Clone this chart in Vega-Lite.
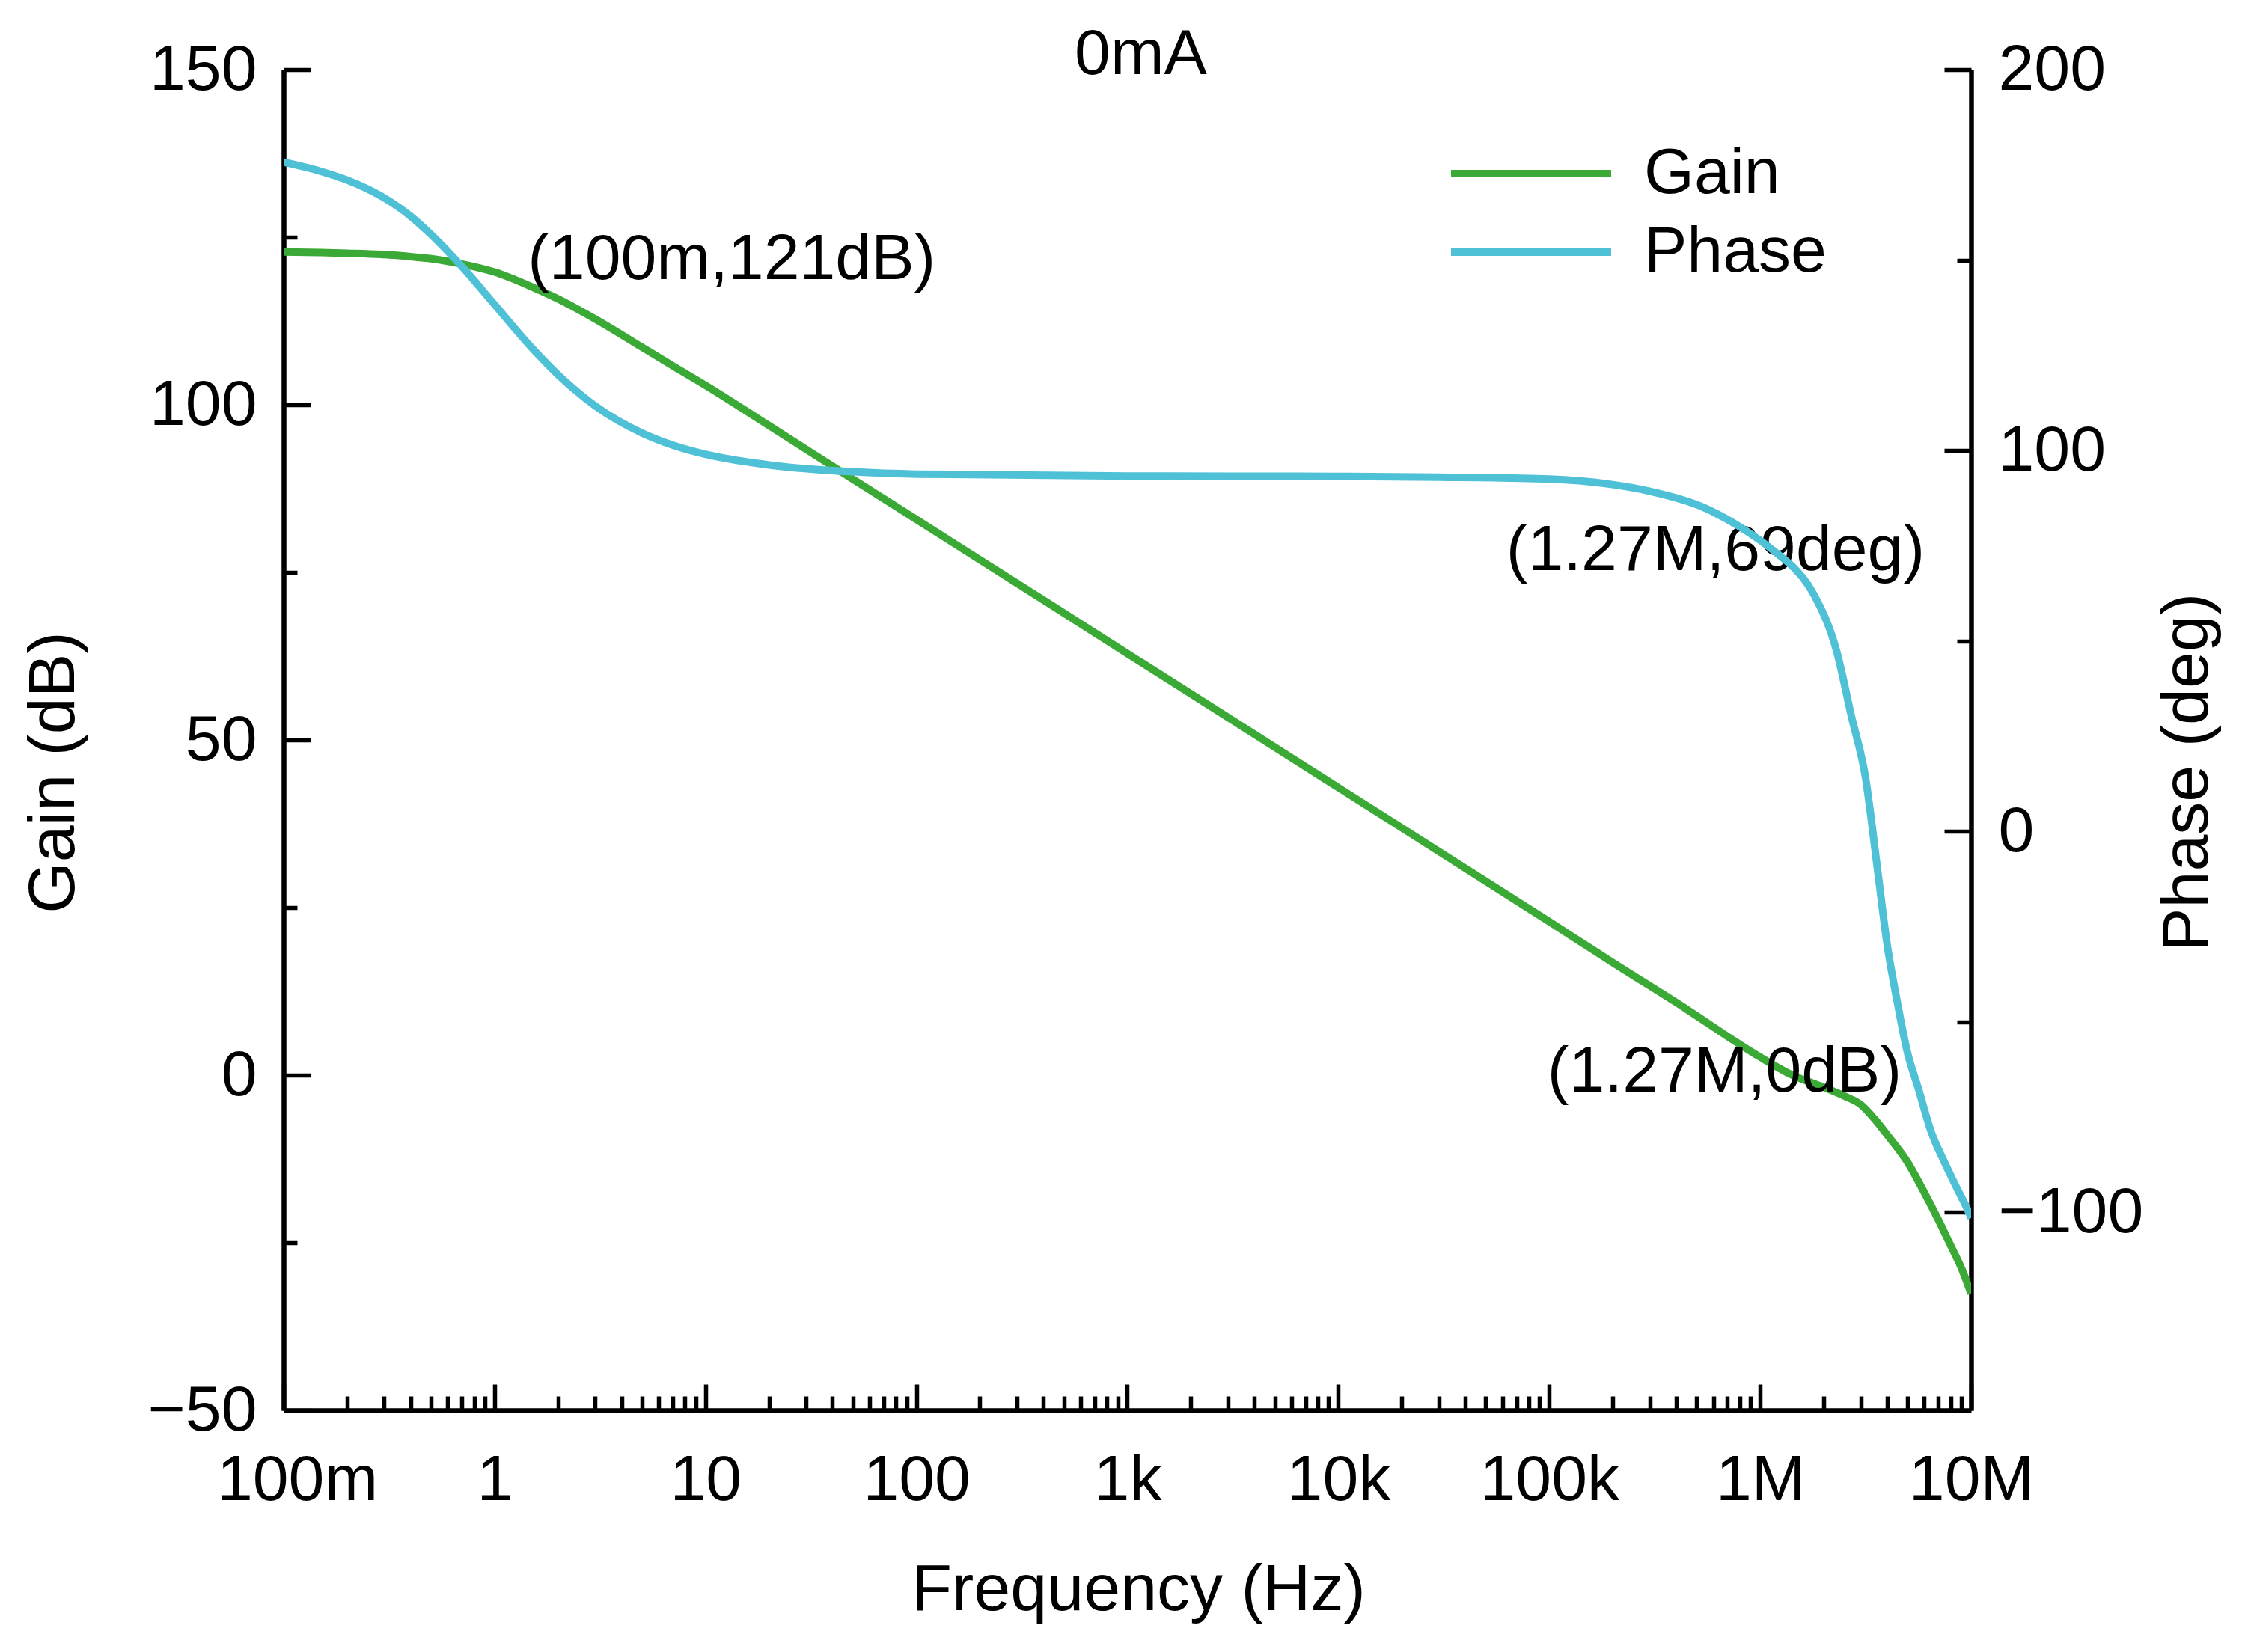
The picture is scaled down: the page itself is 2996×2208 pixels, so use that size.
{
  "$schema": "https://vega.github.io/schema/vega-lite/v6.json",
  "description": "Bode plot, gain and phase vs frequency at 0mA.",
  "autosize": "none",
  "width": 2255,
  "height": 1792,
  "padding": {"left": 379, "top": 93, "right": 362, "bottom": 323},
  "background": "white",
  "title": {"text": "0mA", "fontSize": 86, "fontWeight": "normal", "font": "Liberation Sans", "color": "black", "anchor": "middle", "offset": -67, "dx": 18},
  "config": {
    "view": {"stroke": null},
    "font": "Liberation Sans",
    "axis": {
      "grid": false,
      "domainColor": "black",
      "domainWidth": 6.5,
      "tickColor": "black",
      "tickWidth": 5.5,
      "labelColor": "black",
      "labelFont": "Liberation Sans",
      "labelFontSize": 86,
      "labelLimit": 0,
      "labelOverlap": false,
      "labelBound": false,
      "labelFlush": false,
      "titleColor": "black",
      "titleFont": "Liberation Sans",
      "titleFontSize": 88,
      "titleFontWeight": "normal",
      "titleLimit": 0
    },
    "legend": {"labelLimit": 0}
  },
  "datasets": {
    "curves": [
      {"s": "Gain", "f": 0.1, "v": 122.8},
      {"s": "Gain", "f": 0.15, "v": 122.7},
      {"s": "Gain", "f": 0.2, "v": 122.6},
      {"s": "Gain", "f": 0.3, "v": 122.4},
      {"s": "Gain", "f": 0.4, "v": 122.1},
      {"s": "Gain", "f": 0.5, "v": 121.8},
      {"s": "Gain", "f": 0.7, "v": 121.0},
      {"s": "Gain", "f": 1, "v": 119.8},
      {"s": "Gain", "f": 1.5, "v": 117.6},
      {"s": "Gain", "f": 2, "v": 115.8},
      {"s": "Gain", "f": 3, "v": 112.8},
      {"s": "Gain", "f": 5, "v": 108.6},
      {"s": "Gain", "f": 7, "v": 105.8},
      {"s": "Gain", "f": 10, "v": 102.9},
      {"s": "Gain", "f": 20, "v": 96.9},
      {"s": "Gain", "f": 50, "v": 88.9},
      {"s": "Gain", "f": 100, "v": 82.9},
      {"s": "Gain", "f": 1000, "v": 62.9},
      {"s": "Gain", "f": 10000, "v": 42.9},
      {"s": "Gain", "f": 100000, "v": 22.9},
      {"s": "Gain", "f": 200000, "v": 16.8},
      {"s": "Gain", "f": 450000, "v": 9.8},
      {"s": "Gain", "f": 800000, "v": 4.6},
      {"s": "Gain", "f": 1000000, "v": 2.7},
      {"s": "Gain", "f": 1420000, "v": 0.0},
      {"s": "Gain", "f": 2000000, "v": -1.8},
      {"s": "Gain", "f": 2500000, "v": -3.1},
      {"s": "Gain", "f": 3000000, "v": -4.4},
      {"s": "Gain", "f": 3500000, "v": -6.6},
      {"s": "Gain", "f": 4000000, "v": -8.9},
      {"s": "Gain", "f": 5000000, "v": -13.0},
      {"s": "Gain", "f": 6000000, "v": -17.5},
      {"s": "Gain", "f": 7000000, "v": -21.6},
      {"s": "Gain", "f": 8000000, "v": -25.4},
      {"s": "Gain", "f": 9000000, "v": -28.8},
      {"s": "Gain", "f": 10000000, "v": -32.6},
      {"s": "Phase", "f": 0.1, "v": 175.7},
      {"s": "Phase", "f": 0.15, "v": 173.3},
      {"s": "Phase", "f": 0.2, "v": 171.0},
      {"s": "Phase", "f": 0.3, "v": 166.3},
      {"s": "Phase", "f": 0.4, "v": 161.5},
      {"s": "Phase", "f": 0.5, "v": 156.7},
      {"s": "Phase", "f": 0.7, "v": 148.3},
      {"s": "Phase", "f": 1, "v": 138.3},
      {"s": "Phase", "f": 1.5, "v": 127.0},
      {"s": "Phase", "f": 2, "v": 119.9},
      {"s": "Phase", "f": 3, "v": 111.7},
      {"s": "Phase", "f": 5, "v": 104.6},
      {"s": "Phase", "f": 7, "v": 101.4},
      {"s": "Phase", "f": 10, "v": 99.0},
      {"s": "Phase", "f": 20, "v": 96.2},
      {"s": "Phase", "f": 50, "v": 94.4},
      {"s": "Phase", "f": 100, "v": 93.8},
      {"s": "Phase", "f": 1000, "v": 93.3},
      {"s": "Phase", "f": 10000, "v": 93.2},
      {"s": "Phase", "f": 30000, "v": 93.0},
      {"s": "Phase", "f": 100000, "v": 92.5},
      {"s": "Phase", "f": 191000, "v": 91.2},
      {"s": "Phase", "f": 300000, "v": 89.3},
      {"s": "Phase", "f": 521000, "v": 85.4},
      {"s": "Phase", "f": 800000, "v": 80.0},
      {"s": "Phase", "f": 1000000, "v": 76.4},
      {"s": "Phase", "f": 1270000, "v": 71.9},
      {"s": "Phase", "f": 1420000, "v": 69.6},
      {"s": "Phase", "f": 1800000, "v": 62.1},
      {"s": "Phase", "f": 2310000, "v": 47.1},
      {"s": "Phase", "f": 2700000, "v": 30.5},
      {"s": "Phase", "f": 3160000, "v": 14.0},
      {"s": "Phase", "f": 3600000, "v": -10.0},
      {"s": "Phase", "f": 4000000, "v": -29.7},
      {"s": "Phase", "f": 4460000, "v": -44.6},
      {"s": "Phase", "f": 5000000, "v": -58.2},
      {"s": "Phase", "f": 5600000, "v": -67.2},
      {"s": "Phase", "f": 6500000, "v": -79.2},
      {"s": "Phase", "f": 7470000, "v": -86.8},
      {"s": "Phase", "f": 8500000, "v": -93.3},
      {"s": "Phase", "f": 9800000, "v": -100.3},
      {"s": "Phase", "f": 10000000, "v": -101.5}
    ],
    "notes": [
      {"label": "(100m,121dB)", "f": 13.3, "v": 121.65},
      {"label": "(1.27M,69deg)", "f": 614000, "v": 78.2},
      {"label": "(1.27M,0dB)", "f": 677600, "v": 0.45}
    ]
  },
  "encoding": {
    "x": {
      "field": "f",
      "type": "quantitative",
      "scale": {"type": "log", "domain": [0.1, 10000000]},
      "axis": {
        "orient": "bottom",
        "title": "Frequency (Hz)",
        "titleX": 1142,
        "titleY": 240,
        "titleAlign": "center",
        "titleBaseline": "middle",
        "values": [0.1, 0.2, 0.3, 0.4, 0.5, 0.6, 0.7, 0.8, 0.9, 1, 2, 3, 4, 5, 6, 7, 8, 9, 10, 20, 30, 40, 50, 60, 70, 80, 90, 100, 200, 300, 400, 500, 600, 700, 800, 900, 1000, 2000, 3000, 4000, 5000, 6000, 7000, 8000, 9000, 10000, 20000, 30000, 40000, 50000, 60000, 70000, 80000, 90000, 100000, 200000, 300000, 400000, 500000, 600000, 700000, 800000, 900000, 1000000, 2000000, 3000000, 4000000, 5000000, 6000000, 7000000, 8000000, 9000000, 10000000],
        "labelExpr": "datum.value === 0.1 ? '100m' : datum.value === 1 ? '1' : datum.value === 10 ? '10' : datum.value === 100 ? '100' : datum.value === 1000 ? '1k' : datum.value === 10000 ? '10k' : datum.value === 100000 ? '100k' : datum.value === 1000000 ? '1M' : datum.value === 10000000 ? '10M' : ''",
        "tickSize": {"condition": {"test": "datum.value === 0.1 || datum.value === 1 || datum.value === 10 || datum.value === 100 || datum.value === 1000 || datum.value === 10000 || datum.value === 100000 || datum.value === 1000000 || datum.value === 10000000", "value": -35}, "value": -19},
        "labelOffset": {"condition": {"test": "datum.value === 0.1", "value": 18}, "value": 0},
        "labelPadding": 86,
        "labelBaseline": "top"
      }
    }
  },
  "layer": [
    {
      "layer": [
        {
          "data": {"name": "curves"},
          "transform": [{"filter": "datum.s === 'Gain'"}],
          "mark": {"type": "line", "strokeWidth": 10, "interpolate": "monotone", "clip": true},
          "encoding": {
            "y": {
              "field": "v",
              "type": "quantitative",
              "scale": {"domain": [-50, 150]},
              "axis": {
                "orient": "left",
                "title": "Gain (dB)",
                "titleX": -307,
                "titleY": 939,
                "titleAngle": 270,
                "titleAlign": "center",
                "titleBaseline": "middle",
                "values": [150, 125, 100, 75, 50, 25, 0, -25, -50],
                "labelExpr": "datum.value % 50 === 0 ? datum.label : ''",
                "tickSize": {"condition": {"test": "datum.value % 50 === 0", "value": -36}, "value": -18},
                "labelPadding": 72
              }
            },
            "color": {
              "field": "s",
              "type": "nominal",
              "scale": {"domain": ["Gain", "Phase"], "range": ["#3aa935", "#4fc1d6"]},
              "legend": {"title": null, "orient": "none", "legendX": 1624, "legendY": 96, "padding": 0, "symbolType": "M-4,0L4,0", "symbolSize": 2862, "symbolStrokeWidth": 10, "labelFontSize": 86, "labelFont": "Liberation Sans", "labelColor": "black", "labelOffset": 108, "labelLimit": 0, "rowPadding": 19}
            }
          }
        },
        {
          "data": {"name": "notes"},
          "mark": {"type": "text", "font": "Liberation Sans", "fontSize": 86, "align": "center", "baseline": "middle", "color": "black"},
          "encoding": {
            "y": {"field": "v", "type": "quantitative", "scale": {"domain": [-50, 150]}},
            "text": {"field": "label", "type": "nominal"}
          }
        }
      ]
    },
    {
      "data": {"name": "curves"},
      "transform": [{"filter": "datum.s === 'Phase'"}],
      "mark": {"type": "line", "strokeWidth": 10, "interpolate": "monotone", "clip": true},
      "encoding": {
        "y": {
          "field": "v",
          "type": "quantitative",
          "scale": {"domain": [-152, 200]},
          "axis": {
            "orient": "right",
            "title": "Phase (deg)",
            "titleX": 289,
            "titleY": 939,
            "titleAngle": 270,
            "titleAlign": "center",
            "titleBaseline": "middle",
            "values": [200, 150, 100, 50, 0, -50, -100],
            "labelExpr": "datum.value % 100 === 0 ? datum.label : ''",
            "tickSize": {"condition": {"test": "datum.value % 100 === 0", "value": -36}, "value": -19},
            "labelPadding": 72
          }
        },
        "color": {
          "field": "s",
          "type": "nominal",
          "scale": {"domain": ["Gain", "Phase"], "range": ["#3aa935", "#4fc1d6"]},
          "legend": {"title": null, "orient": "none", "legendX": 1624, "legendY": 96, "padding": 0, "symbolType": "M-4,0L4,0", "symbolSize": 2862, "symbolStrokeWidth": 10, "labelFontSize": 86, "labelFont": "Liberation Sans", "labelColor": "black", "labelOffset": 108, "labelLimit": 0, "rowPadding": 19}
        }
      }
    }
  ],
  "resolve": {"scale": {"y": "independent"}, "axis": {"y": "independent"}}
}
